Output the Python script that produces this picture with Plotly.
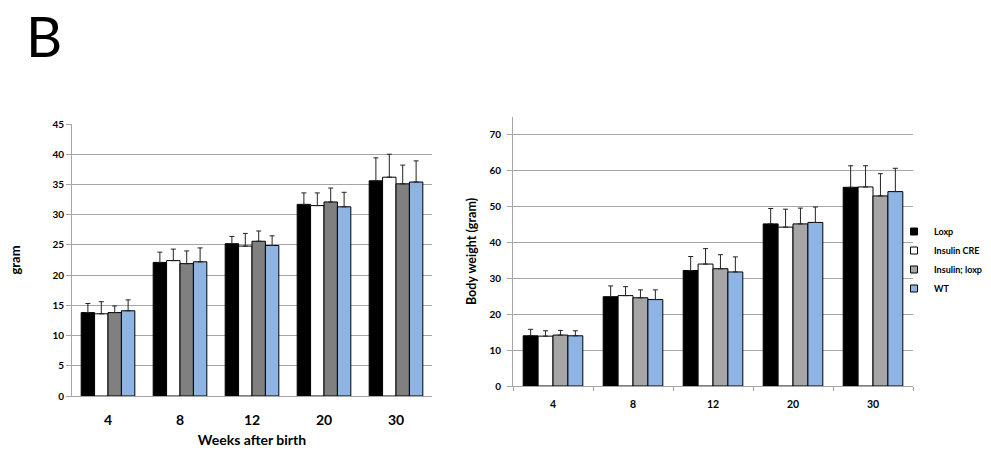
import plotly.graph_objects as go

weeks = ["4", "8", "12", "20", "30"]
series_names = ["Loxp", "Insulin CRE", "Insulin; loxp", "WT"]

# Left panel (gram)
left_loxp = [13.8, 22.1, 25.2, 31.7, 35.6]
left_loxp_err = [1.5, 1.7, 1.2, 1.9, 3.8]
left_cre = [13.6, 22.4, 24.8, 31.5, 36.2]
left_cre_err = [2.0, 1.9, 2.1, 2.1, 3.8]
left_insloxp = [13.8, 21.9, 25.6, 32.1, 35.1]
left_insloxp_err = [1.1, 2.1, 1.7, 2.3, 3.1]
left_wt = [14.1, 22.2, 24.9, 31.3, 35.4]
left_wt_err = [1.8, 2.3, 1.6, 2.4, 3.5]

# Right panel (Body weight, gram)
right_loxp = [14.0, 24.9, 32.2, 45.2, 55.4]
right_loxp_err = [1.8, 3.0, 3.9, 4.3, 6.0]
right_cre = [13.9, 25.2, 34.0, 44.3, 55.5]
right_cre_err = [1.5, 2.5, 4.3, 5.0, 5.9]
right_insloxp = [14.2, 24.6, 32.7, 45.2, 53.0]
right_insloxp_err = [1.3, 2.2, 3.9, 4.4, 6.2]
right_wt = [14.0, 24.1, 31.8, 45.6, 54.2]
right_wt_err = [1.4, 2.7, 4.2, 4.3, 6.5]

left_ticks = list(range(0, 50, 5))
right_ticks = list(range(0, 80, 10))

left_colors = ["#000000", "#FFFFFF", "#808080", "#8EB4E3"]
right_colors = ["#000000", "#FFFFFF", "#A6A6A6", "#8EB4E3"]

FONT = "Lato, 'Open Sans', Arial, sans-serif"
GRID = "#A6A6A6"

fig = go.Figure()

left_vals = [left_loxp, left_cre, left_insloxp, left_wt]
left_errs = [left_loxp_err, left_cre_err, left_insloxp_err, left_wt_err]
right_vals = [right_loxp, right_cre, right_insloxp, right_wt]
right_errs = [right_loxp_err, right_cre_err, right_insloxp_err, right_wt_err]

for i, name in enumerate(series_names):
    fig.add_trace(go.Bar(
        x=weeks, y=left_vals[i], name=name, showlegend=False,
        marker=dict(color=left_colors[i], line=dict(color="#000000", width=1)),
        error_y=dict(type="data", symmetric=False, array=left_errs[i],
                     arrayminus=[0] * len(weeks), color="#222222",
                     thickness=1, width=2.5),
        xaxis="x", yaxis="y", hoverinfo="skip"))

for i, name in enumerate(series_names):
    fig.add_trace(go.Bar(
        x=weeks, y=right_vals[i], name=name, showlegend=False,
        marker=dict(color=right_colors[i], line=dict(color="#000000", width=1)),
        error_y=dict(type="data", symmetric=False, array=right_errs[i],
                     arrayminus=[0] * len(weeks), color="#222222",
                     thickness=1, width=2.5),
        xaxis="x2", yaxis="y2", hoverinfo="skip"))

# legend entries (small squares like the reference)
for i, name in enumerate(series_names):
    fig.add_trace(go.Scatter(
        x=[None], y=[None], mode="markers", name=name,
        marker=dict(symbol="square", size=7, color=right_colors[i],
                    line=dict(color="#000000", width=1)),
        xaxis="x2", yaxis="y2"))

fig.update_layout(
    width=991, height=451,
    margin=dict(l=0, r=0, t=0, b=0),
    paper_bgcolor="white", plot_bgcolor="white",
    barmode="group", bargap=0.255, bargroupgap=0,
    font=dict(family=FONT, color="#000000"),
    showlegend=True,
    legend=dict(x=894 / 991, y=1 - 260 / 451, xanchor="left", yanchor="middle",
                font=dict(size=9, family=FONT, weight="bold"),
                itemwidth=30, bgcolor="rgba(0,0,0,0)", tracegroupgap=0),
    xaxis=dict(domain=[72 / 991, 432 / 991], type="category",
               showline=True, linecolor=GRID, linewidth=1,
               ticks="", showgrid=False, automargin=False,
               ticklabelstandoff=11,
               tickfont=dict(size=14, family=FONT, weight="bold"),
               title=dict(text="Weeks after birth",
                          font=dict(size=14, family=FONT, weight="bold"),
                          standoff=8),
               anchor="y"),
    yaxis=dict(domain=[1 - 396 / 451, 1 - 124 / 451], range=[0, 45],
               tickvals=left_ticks, showgrid=True, gridcolor=GRID, gridwidth=1,
               showline=True, linecolor=GRID, linewidth=1,
               ticks="outside", ticklen=5, tickcolor=GRID,
               tickfont=dict(size=10, family=FONT, weight="bold"),
               zeroline=False, automargin=False,
               title=dict(text="gram",
                          font=dict(size=13, family=FONT, weight="bold"),
                          standoff=28),
               anchor="x"),
    xaxis2=dict(domain=[513 / 991, 913 / 991], type="category",
                showline=True, linecolor=GRID, linewidth=1,
                ticks="outside", ticklen=4, tickcolor=GRID,
                tickson="boundaries", showgrid=False, automargin=False,
                ticklabelstandoff=8,
                tickfont=dict(size=10.5, family=FONT, weight="bold"),
                anchor="y2"),
    yaxis2=dict(domain=[1 - 386 / 451, 1 - 117 / 451], range=[0, 75],
                tickvals=right_ticks, showgrid=True, gridcolor=GRID, gridwidth=1,
                showline=True, linecolor=GRID, linewidth=1,
                ticks="outside", ticklen=5, tickcolor=GRID,
                ticklabelstandoff=4,
                tickfont=dict(size=10, family=FONT, weight="bold"),
                zeroline=False, automargin=False,
                title=dict(text="Body weight (gram)",
                           font=dict(size=12.5, family=FONT, weight="bold"),
                           standoff=10),
                anchor="x2"),
    annotations=[dict(text="B", xref="paper", yref="paper",
                      x=24 / 991, y=1, xanchor="left", yanchor="top",
                      showarrow=False,
                      font=dict(size=56, family=FONT, color="#000000"))],
)

fig.write_html("out.html",
               config={"displayModeBar": False},
               post_script="document.body.style.margin='0';document.body.style.overflow='hidden';")
